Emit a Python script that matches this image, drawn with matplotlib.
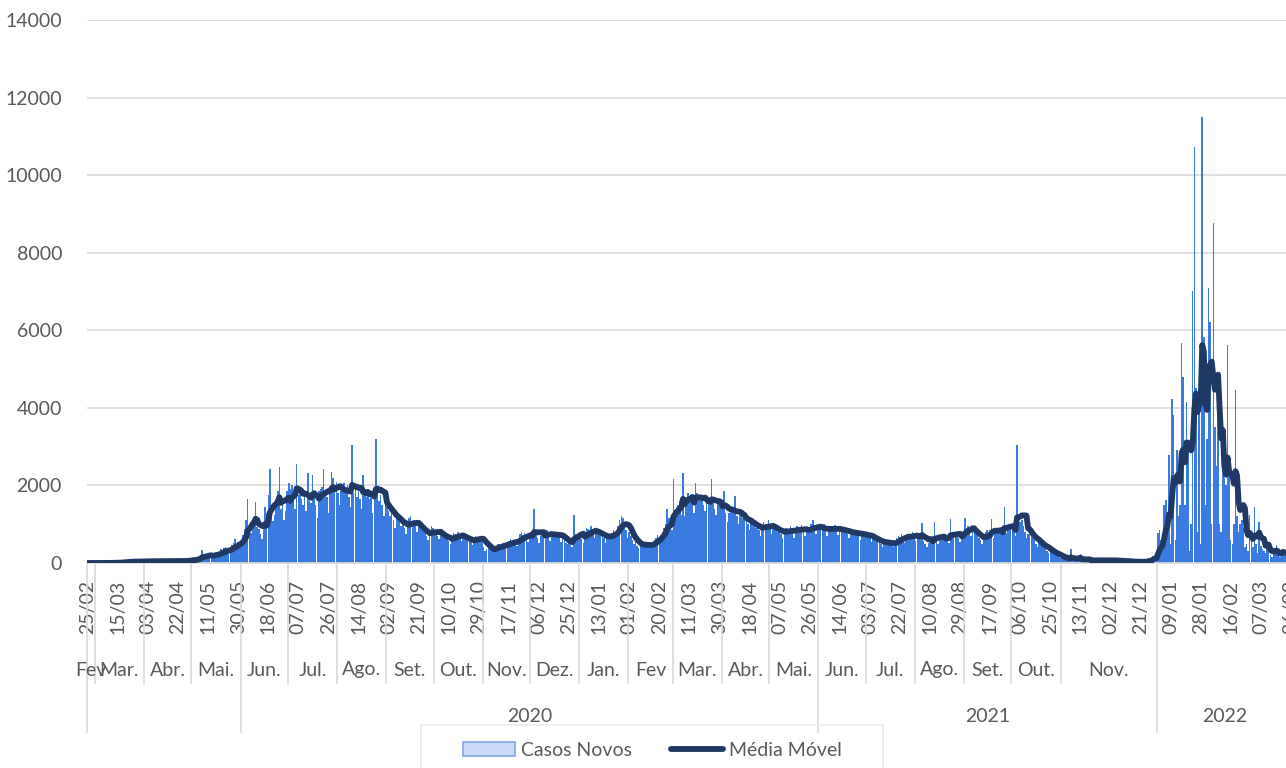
import matplotlib.pyplot as plt
from matplotlib.patches import Patch, Rectangle
from matplotlib.lines import Line2D
import numpy as np
import pandas as pd

plt.rcParams['font.family'] = ['Lato', 'DejaVu Sans']

# casos novos por dia, a partir de 25/02/2020 (uma semana por linha)
casos_2020 = [
    1, 0, 0, 0, 0, 0, 0,
    0, 1, 0, 2, 3, 1, 2,
    4, 6, 10, 8, 12, 5, 9,
    22, 30, 35, 28, 40, 25, 30,
    45, 38, 52, 41, 35, 30, 44,
    50, 47, 40, 55, 38, 42, 48,
    52, 44, 39, 57, 41, 36, 46,
    55, 61, 48, 52, 44, 39, 50,
    58, 47, 63, 51, 42, 45, 49,
    70, 95, 68, 110, 80, 62, 85,
    140, 185, 340, 170, 150, 130, 150,
    240, 200, 260, 215, 230, 180, 215,
    360, 300, 390, 420, 310, 250, 280,
    460, 520, 610, 480, 550, 430, 470,
    720, 880, 1100, 1645, 900, 780, 980,
    1000, 1585, 930, 870, 740, 620, 850,
    1450, 1300, 1750, 2415, 1200, 1080, 1250,
    1600, 1850, 2470, 1400, 1550, 1100, 1350,
    1850, 2050, 1900, 2000, 1750, 1400, 2540,
    1750, 1900, 1650, 1500, 1800, 1350, 2320,
    1600, 1550, 2280, 1700, 1500, 1150, 1850,
    1900, 1950, 2420, 1850, 1700, 1300, 1900,
    2350, 2200, 2000, 2100, 1800, 1500, 1850,
    1950, 2050, 1900, 2000, 1700, 1450, 3040,
    1800, 1950, 1700, 2000, 1650, 1400, 2280,
    1850, 1700, 1900, 1650, 1750, 1300, 1850,
    3190, 1800, 1600, 1750, 1500, 1200, 1650,
    1450, 1350, 1200, 1400, 1100, 900, 1250,
    1200, 1100, 950, 1050, 900, 750, 1000,
    1150, 1200, 1050, 1100, 950, 800, 1000,
    900, 850, 800, 780, 700, 600, 750,
    950, 900, 850, 820, 700, 620, 800,
    700, 680, 640, 650, 580, 500, 620,
    780, 750, 720, 800, 650, 560, 720,
    650, 620, 580, 640, 550, 460, 600,
    700, 680, 650, 700, 600, 420, 300,
    350, 380, 400, 420, 350, 280, 390,
    480, 500, 460, 520, 430, 380, 480,
    580, 620, 550, 600, 520, 430, 560,
    750, 800, 720, 780, 650, 540, 700,
    800, 750, 1385, 720, 650, 520, 700,
    820, 780, 750, 850, 700, 560, 760,
    780, 760, 720, 800, 680, 540, 720,
    600, 520, 480, 560, 470, 400, 1240,
    750, 720, 680,
]

casos_2021 = [
    760, 620, 520, 700,
    900, 880, 850, 950, 780, 650, 820,
    800, 760, 700, 780, 650, 520, 690,
    720, 700, 780, 850, 800, 700, 950,
    1100, 1200, 1150, 1050, 850, 650, 800,
    700, 600, 500, 550, 450, 380, 480,
    500, 480, 470, 520, 430, 380, 460,
    550, 600, 650, 720, 680, 600, 800,
    900, 1000, 1385, 1150, 950, 850, 2165,
    1300, 1450, 1500, 1600, 1250, 2320, 1200,
    1700, 1800, 1650, 1750, 1500, 1300, 2060,
    1800, 1750, 1700, 1650, 1500, 1350, 1700,
    1500, 1600, 2165, 1650, 1400, 1250, 1600,
    1500, 1450, 1400, 1860, 1300, 1050, 1300,
    1350, 1400, 1300, 1730, 1200, 1000, 1250,
    1200, 1150, 1100, 1250, 1000, 850, 1100,
    1000, 950, 900, 1050, 850, 700, 900,
    1050, 1000, 950, 1100, 900, 750, 950,
    900, 850, 800, 900, 750, 650, 800,
    900, 880, 850, 950, 780, 650, 860,
    950, 920, 880, 980, 800, 700, 870,
    850, 880, 1000, 1100, 900, 750, 950,
    950, 900, 880, 1000, 820, 700, 900,
    950, 920, 880, 980, 820, 720, 900,
    900, 850, 820, 900, 750, 650, 800,
    820, 800, 750, 850, 700, 600, 760,
    780, 750, 700, 760, 650, 550, 680,
    600, 580, 550, 620, 500, 420, 560,
    560, 540, 500, 560, 480, 400, 520,
    650, 700, 680, 750, 620, 520, 700,
    750, 720, 700, 800, 680, 560, 740,
    650, 600, 1020, 580, 500, 420, 520,
    650, 620, 600, 1065, 580, 480, 620,
    700, 680, 650, 720, 600, 520, 1125,
    750, 720, 700, 780, 650, 550, 700,
    800, 1170, 900, 950, 850, 700, 900,
    800, 750, 700, 650, 600, 500, 650,
    800, 850, 780, 820, 1125, 650, 800,
    800, 850, 820, 880, 720, 1440, 780,
    900, 950, 880, 950, 800, 700, 3040,
    950, 1050, 1100, 950, 800, 650, 750,
    800, 700, 650, 600, 500, 400, 550,
    500, 450, 400, 380, 320, 250, 330,
    280, 250, 220, 200, 170, 130, 180,
    130, 110, 100, 90, 70, 350, 60,
    80, 75, 70, 90, 240, 50, 60,
    80, 75, 70, 85, 60, 45, 65,
    75, 80, 70, 90, 60, 50, 65,
    80, 70, 75, 85, 55, 45, 60,
    55, 60, 50, 65, 45, 35, 40,
    40, 35, 30, 35, 45, 40, 30,
    25, 20, 40, 35, 45, 130, 90,
    110, 180, 140, 145,
]

casos_2022 = [
    770, 850, 600, 500, 1500, 1630, 900,
    2780, 500, 4220, 3810, 600, 2910, 1200,
    1500, 5670, 4800, 1500, 4150, 2910, 300,
    1000, 7000, 10730, 4500, 800, 4300, 500,
    11500, 5830, 1500, 3200, 7100, 6210, 1000,
    8760, 3500, 2500, 4920, 1000, 800, 2500,
    2200, 2000, 5620, 2400, 600, 500, 1000,
    4460, 1200, 800, 1000, 1100, 900, 400,
    500, 300, 1240, 600, 400, 1450, 500,
    250, 1060, 450, 350, 300, 250, 400,
    500, 200, 150, 300, 250, 460, 200,
    150, 250, 370, 220, 180, 250, 260,
    230,
]

inicio = '2020-02-25'
passo_rotulo = 19

meses = ['Fev', 'Mar.', 'Abr.', 'Mai.', 'Jun.', 'Jul.', 'Ago.', 'Set.', 'Out.',
         'Nov.', 'Dez.', 'Jan.', 'Fev', 'Mar.', 'Abr.', 'Mai.', 'Jun.', 'Jul.',
         'Ago.', 'Set.', 'Out.', 'Nov.', '']
inicio_meses = ['2020-02-25', '2020-03-01', '2020-04-01', '2020-05-01', '2020-06-01',
                '2020-07-01', '2020-08-01', '2020-09-01', '2020-10-01', '2020-11-01',
                '2020-12-01', '2021-01-01', '2021-02-01', '2021-03-01', '2021-04-01',
                '2021-05-01', '2021-06-01', '2021-07-01', '2021-08-01', '2021-09-01',
                '2021-10-01', '2021-11-01', '2022-01-01']
anos = ['', '2020', '2021', '2022']
inicio_anos = ['2020-02-25', '2020-06-01', '2021-06-01', '2022-01-01']

cinza = '#595959'
linha_cinza = '#d9d9d9'
W, H = 1286, 768


def posicao(data, dias):
    return (pd.Timestamp(data) - dias[0]).days - 0.5


def grupos(inicios, dias, n):
    ini = [posicao(d, dias) for d in inicios]
    fim = ini[1:] + [n - 0.5]
    return ini, fim


casos = np.array(casos_2020 + casos_2021 + casos_2022)
n = len(casos)
dias = pd.date_range(inicio, periods=n)
x = np.arange(n)
media = pd.Series(casos).rolling(7, min_periods=1).mean()

fig = plt.figure(figsize=(W / 100, H / 100), dpi=100)
px_dia = 1.583
ax = fig.add_axes([87 / W, (H - 563) / H, n * px_dia / W, 543 / H])

ax.bar(x, casos, width=0.95, color='#3a7be2', linewidth=0, zorder=2)
ax.plot(x, media, color='#1f3864', lw=4.2, solid_joinstyle='round',
        solid_capstyle='round', zorder=3)

ax.set_xlim(-0.5, n - 0.5)
ax.set_ylim(0, 14000)
ax.set_yticks(range(0, 14001, 2000))
ax.grid(axis='y', color=linha_cinza, lw=1.2, zorder=0)
for s in ['top', 'right', 'left']:
    ax.spines[s].set_visible(False)
ax.spines['bottom'].set_color(linha_cinza)
ax.spines['bottom'].set_linewidth(1.2)
ax.tick_params(axis='y', length=0, pad=18, labelsize=14, labelcolor=cinza)

rot = list(range(0, n, passo_rotulo))
ax.set_xticks(rot)
ax.set_xticklabels([dias[i].strftime('%d/%m') for i in rot], rotation=90)
ax.tick_params(axis='x', length=0, pad=12, labelsize=14, labelcolor=cinza)

trans = ax.get_xaxis_transform()
y_mes_fim = (563 - 683) / 543
y_ano_fim = (563 - 732) / 543
y_mes_txt = (563 - 670) / 543
y_ano_txt = (563 - 716) / 543

ini_m, fim_m = grupos(inicio_meses, dias, n)
ini_a, fim_a = grupos(inicio_anos, dias, n)
for a, b, rotulo in zip(ini_m, fim_m, meses):
    if a not in ini_a:
        ax.plot([a, a], [0, y_mes_fim], transform=trans, color=linha_cinza,
                lw=1.2, clip_on=False)
    ax.text((a + b) / 2, y_mes_txt, rotulo, transform=trans, ha='center',
            va='center', fontsize=14, color=cinza)
for a, b, rotulo in zip(ini_a, fim_a, anos):
    ax.plot([a, a], [0, y_ano_fim], transform=trans, color=linha_cinza,
            lw=1.2, clip_on=False)
    ax.text((a + b) / 2, y_ano_txt, rotulo, transform=trans, ha='center',
            va='center', fontsize=14, color=cinza)

fig.patches.append(Rectangle((421 / W, -0.02), 462 / W, (H - 725) / H + 0.02,
                             transform=fig.transFigure, fill=False,
                             edgecolor='#e8edf5', lw=1.2))
itens = [Patch(facecolor='#cddcf6', edgecolor='#7fa6e6', lw=1.2),
         Line2D([0], [0], color='#1f3864', lw=4.2, solid_capstyle='round')]
leg = fig.legend(itens, ['Casos Novos', 'Média Móvel'], loc='center left',
                 bbox_to_anchor=(453 / W, 1 - 750 / H), ncol=2, frameon=False,
                 borderpad=0, fontsize=14, handlelength=2.7, handletextpad=0.3,
                 columnspacing=2.0)
for t in leg.get_texts():
    t.set_color(cinza)

fig.savefig('out.png', dpi=100)
